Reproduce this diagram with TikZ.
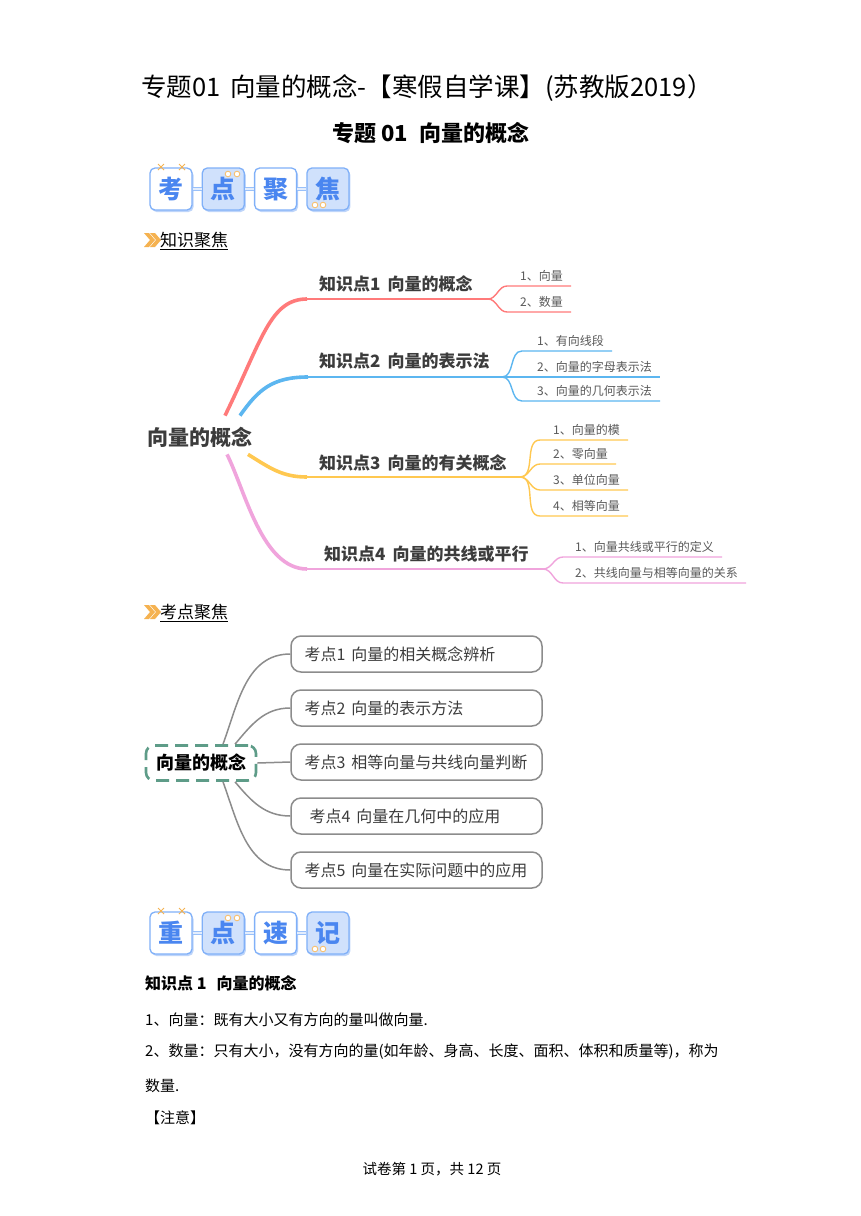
\documentclass[tikz,border=0pt]{standalone}
\usepackage{fontspec}
\setmainfont{Noto Sans CJK SC}
\usepackage{xcolor}
\usetikzlibrary{positioning}
\usetikzlibrary{shadows}
\definecolor{kred}{RGB}{255,122,122}
\definecolor{kblue}{RGB}{92,182,240}
\definecolor{kyellow}{RGB}{255,200,80}
\definecolor{kpink}{RGB}{240,164,220}
\definecolor{kgray}{RGB}{140,140,140}
\definecolor{kteal}{RGB}{94,156,136}
\definecolor{inkdark}{RGB}{60,60,60}
\definecolor{bdline}{RGB}{128,176,248}
\definecolor{bdfill}{RGB}{208,225,252}
\definecolor{bdtext}{RGB}{74,134,240}
\definecolor{bdshadow}{RGB}{190,213,250}
\definecolor{orng}{RGB}{245,178,80}
\newcommand{\setfs}[1]{\fontsize{#1}{#1}\selectfont}
\tikzset{
  badge/.style={draw=bdline, fill=white, line width=1.3pt, rounded corners=5pt,
    minimum width=42pt, minimum height=42pt, inner sep=0pt,
    font=\setfs{25}\bfseries, text=bdtext,
    drop shadow={shadow xshift=1.5pt, shadow yshift=-2pt, fill=bdshadow, opacity=1}},
  badge dark/.style={badge, fill=bdfill},
  badge link/.style={draw=bdline!80, line width=1pt, double=bdfill!60, double distance=1.6pt},
  spark/.style={draw=orng, line width=0.9pt},
  root/.style={font=\setfs{21}\bfseries, text=inkdark, inner sep=0pt},
  klabel/.style={font=\setfs{17}\bfseries, text=inkdark, inner sep=0pt, anchor=west},
  branch/.style={line width=3.6pt},
  stem/.style={line width=2.2pt},
  twig/.style={line width=1.4pt},
  twig text/.style={font=\setfs{12}, text=inkdark!85, anchor=base west, inner sep=0pt},
  topic/.style={draw=kgray, line width=1.5pt, rounded corners=10pt, minimum height=36pt,
    text width=230pt, inner xsep=10.5pt, align=left, font=\setfs{16}, text=inkdark},
  root box/.style={draw=kteal, line width=2.6pt, dash pattern=on 13pt off 7pt,
    rounded corners=8pt, minimum width=110pt, minimum height=35pt, font=\setfs{18}\bfseries},
  link/.style={draw=kgray, line width=1.5pt},
  body/.style={anchor=west, font=\setfs{15}, inner sep=0pt},
}

\begin{document}
\begin{tikzpicture}[x=1pt,y=-1pt]
    \fill[white] (0,0) rectangle (860,1216);
    \useasboundingbox (0,0) rectangle (860,1216);
    % titles
    \node[font=\setfs{25.5}, inner sep=0pt] (T1) at (427,88) {专题01\hspace{4pt} 向量的概念-【寒假自学课】(苏教版2019）};
    \node[font=\setfs{22}\bfseries, inner sep=0pt] (T2) at (431,133) {专题 01\hspace{12pt}向量的概念};
    % badge rows
    \foreach \r/\yy/\ta/\tb/\tc/\td in {g/189/考/点/聚/焦, h/933/重/点/速/记} {
        \node[badge] (\r1) at (171,\yy) {\ta};
        \node[badge dark, right=9pt of \r1] (\r2) {\tb};
        \node[badge, right=9pt of \r2] (\r3) {\tc};
        \node[badge dark, right=9pt of \r3] (\r4) {\td};
        \draw[badge link] (\r1) -- (\r2);
        \draw[badge link] (\r2) -- (\r3);
        \draw[badge link] (\r3) -- (\r4);
        \foreach \xx in {161,182}
            \draw[spark] (\xx-3,\yy-25) -- (\xx+3,\yy-19) (\xx-3,\yy-19) -- (\xx+3,\yy-25);
        \foreach \xx/\dy in {228/-15,237/-15,315/16,323/16}
            \draw[draw=orng!80, fill=white, line width=0.9pt] (\xx,\yy+\dy) circle (2.8);
    }
    % section labels
    \foreach \yy in {240,612}
        \foreach \xx in {144,150}
            \fill[orng] (\xx,\yy-7) -- ++(5,0) -- ++(6,7) -- ++(-6,7) -- ++(-5,0) -- ++(6,-7) -- cycle;
    \node[body, font=\setfs{17}] (L1) at (160,240) {知识聚焦};
    \node[body, font=\setfs{17}] (L2) at (160,612) {考点聚焦};
    \draw[line width=0.8pt] ([yshift=-1pt]L1.south west) -- ([yshift=-1pt]L1.south east);
    \draw[line width=0.8pt] ([yshift=-1pt]L2.south west) -- ([yshift=-1pt]L2.south east);

    % mind map of the knowledge points
    \node[root] (C) at (200,437) {向量的概念};
    \node[klabel] (K1) at (319,284) {知识点1\hspace{7pt}向量的概念};
    \node[klabel] (K2) at (319,361) {知识点2\hspace{7pt}向量的表示法};
    \node[klabel] (K3) at (319,463) {知识点3\hspace{7pt}向量的有关概念};
    \node[klabel] (K4) at (324,554) {知识点4\hspace{7pt}向量的共线或平行};
    \coordinate (S1) at (307,299); \coordinate (F1) at (488,299);
    \coordinate (S2) at (308,377); \coordinate (F2) at (502,377);
    \coordinate (S3) at (307,477); \coordinate (F3) at (520,477);
    \coordinate (S4) at (307,569); \coordinate (F4) at (543,569);
    \draw[branch, kred] ([shift={(25pt,11pt)}]C.north) .. controls (262,340) and (270,299) .. (S1);
    \draw[branch, kblue] ([shift={(40pt,11pt)}]C.north) .. controls (258,390) and (272,377) .. (S2);
    \draw[branch, kyellow] ([shift={(48pt,-7pt)}]C.south) .. controls (270,468) and (282,477) .. (S3);
    \draw[branch, kpink] ([shift={(27pt,-7pt)}]C.south) .. controls (245,490) and (262,569) .. (S4);
    \draw[stem, kred] (S1) -- (F1);
    \draw[stem, kblue] (S2) -- (F2);
    \draw[stem, kyellow] (S3) -- (F3);
    \draw[stem, kpink] (S4) -- (F4);
    \foreach \t/\y [count=\i] in {1、向量/286, 2、数量/312} {
        \node[twig text] (s1-\i) at (520,\y-6) {\t};
        \draw[twig, kred] (F1) to[out=0,in=180] ([shift={(-13pt,-6pt)}]s1-\i.base west) -- ([shift={(8pt,-6pt)}]s1-\i.base east);
    }
    \foreach \t/\y [count=\i] in {1、有向线段/351, 2、向量的字母表示法/377, 3、向量的几何表示法/401} {
        \node[twig text] (s2-\i) at (537,\y-6) {\t};
        \draw[twig, kblue] (F2) to[out=0,in=180] ([shift={(-15pt,-6pt)}]s2-\i.base west) -- ([shift={(8pt,-6pt)}]s2-\i.base east);
    }
    \foreach \t/\y [count=\i] in {1、向量的模/440, 2、零向量/464, 3、单位向量/490, 4、相等向量/516} {
        \node[twig text] (s3-\i) at (553,\y-6) {\t};
        \draw[twig, kyellow] (F3) to[out=0,in=180] ([shift={(-13pt,-6pt)}]s3-\i.base west) -- ([shift={(8pt,-6pt)}]s3-\i.base east);
    }
    \foreach \t/\y [count=\i] in {1、向量共线或平行的定义/557, 2、共线向量与相等向量的关系/583} {
        \node[twig text] (s4-\i) at (575,\y-6) {\t};
        \draw[twig, kpink] (F4) to[out=0,in=180] ([shift={(-12pt,-6pt)}]s4-\i.base west) -- ([shift={(8pt,-6pt)}]s4-\i.base east);
    }

    % mind map of the test points
    \node[root box] (D) at (201,763) {向量的概念};
    \node[topic] (t1) at (416.5,654) {\hspace{3pt}考点1\hspace{6pt}向量的相关概念辨析};
    \node[topic, below=16.5pt of t1] (t2) {\hspace{3pt}考点2\hspace{6pt}向量的表示方法};
    \node[topic, below=16.5pt of t2] (t3) {\hspace{3pt}考点3\hspace{6pt}相等向量与共线向量判断};
    \node[topic, below=16.5pt of t3] (t4) {\hspace{8pt}考点4\hspace{6pt}向量在几何中的应用};
    \node[topic, below=16.5pt of t4] (t5) {\hspace{3pt}考点5\hspace{6pt}向量在实际问题中的应用};
    \draw[link] ([xshift=22pt]D.north) to[out=70,in=180] (t1.west);
    \draw[link] ([xshift=34pt]D.north) to[out=50,in=180] (t2.west);
    \draw[link] (D.east) -- (t3.west);
    \draw[link] ([xshift=34pt]D.south) to[out=-50,in=180] (t4.west);
    \draw[link] ([xshift=22pt]D.south) to[out=-70,in=180] (t5.west);

    % notes
    \node[body, font=\setfs{16}\bfseries] (n0) at (145,983) {知识点 1\hspace{10pt}向量的概念};
    \node[body] (n1) at (145,1020) {1、向量：既有大小又有方向的量叫做向量.};
    \node[body] (n2) at (145,1052) {2、数量：只有大小，没有方向的量(如年龄、身高、长度、面积、体积和质量等)，称为};
    \node[body] (n3) at (145,1086) {数量.};
    \node[body] (n4) at (145,1118) {【注意】};
    \node[font=\setfs{14.5}, inner sep=0pt] (n5) at (432,1169) {试卷第 1 页，共 12 页};
\end{tikzpicture}
\end{document}
